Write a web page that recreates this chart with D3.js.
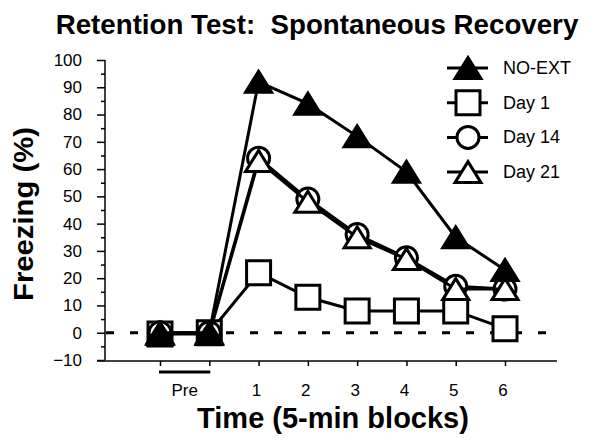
<!DOCTYPE html>
<html><head><meta charset="utf-8">
<script src="https://cdn.jsdelivr.net/npm/d3@7"></script>
<style>body{margin:0;background:#fff}svg{display:block;font-family:"Liberation Sans",Arial,Helvetica,sans-serif}</style>
</head><body><svg id="c" width="616" height="448"></svg>
<script>
const categories = ["Pre1", "Pre2", "1", "2", "3", "4", "5", "6"];
const tickLabels = ["1", "2", "3", "4", "5", "6"];
const seriesNames = ["Day 1", "Day 14", "Day 21", "NO-EXT"];
const day1 = [-0.5, 0, 22, 13, 8, 8, 8, 1.5];
const day14 = [0, 0, 64, 49, 36, 27.5, 17, 16];
const day21 = [-0.5, -0.5, 63, 48, 35, 27, 16, 16];
const noExt = [0, 0, 92, 84, 72, 59, 35, 23];
const yTicks = d3.range(-10, 101, 10);
const yMinor = d3.range(-5, 100, 10);

const svg = d3.select("#c");
const x = d3.scaleLinear().domain([0, 7]).range([160, 505]);
const y = d3.scaleLinear().domain([-10, 100]).range([360, 60]);

// title
svg.append("text").attr("x", 317).attr("y", 34).attr("text-anchor", "middle")
  .attr("font-size", 27.7).attr("font-weight", "bold")
  .style("white-space", "pre").text("Retention Test:  Spontaneous Recovery");

// y axis
const yAxis = d3.axisLeft(y).tickValues(yTicks).tickSize(8).tickPadding(15).tickFormat(d3.format("d"));
const gy = svg.append("g").attr("transform", "translate(105,0)").call(yAxis);
gy.select(".domain").attr("stroke-width", 1.5).attr("d", `M0,${y(100)}V${y(-10)}`);
gy.selectAll(".tick line").attr("stroke-width", 1.5);
gy.selectAll(".tick text").attr("font-size", 17).attr("font-family", "Liberation Sans, Arial, sans-serif").attr("fill", "#000");
const gym = svg.append("g").attr("transform", "translate(105,0)").call(d3.axisLeft(y).tickValues(yMinor).tickSize(4).tickFormat(""));
gym.select(".domain").remove();
gym.selectAll(".tick line").attr("stroke-width", 1.5);

// x axis
const xAxis = d3.axisBottom(x).tickValues(d3.range(0, 8)).tickSize(5).tickFormat("");
const gx = svg.append("g").attr("transform", "translate(0,361)").call(xAxis);
gx.select(".domain").attr("stroke-width", 1.5).attr("d", "M97,0H557");
gx.selectAll(".tick line").attr("stroke-width", 1.5);
svg.append("g").selectAll("text").data(tickLabels).join("text")
  .attr("x", (d, i) => x(i + 2) - 2).attr("y", 396).attr("text-anchor", "middle")
  .attr("font-size", 17).text(d => d);
svg.append("text").attr("x", (x(0) + x(1)) / 2).attr("y", 396).attr("text-anchor", "middle")
  .attr("font-size", 17).text("Pre");
svg.append("line").attr("x1", x(0) - 1).attr("x2", x(1) + 1).attr("y1", 372).attr("y2", 372)
  .attr("stroke", "#000").attr("stroke-width", 3);

// axis titles
svg.append("text").attr("x", 333).attr("y", 428).attr("text-anchor", "middle")
  .attr("font-size", 29).attr("font-weight", "bold").text("Time (5-min blocks)");
svg.append("text").attr("transform", "translate(33,214) rotate(-90)").attr("text-anchor", "middle")
  .attr("font-size", 27).attr("font-weight", "bold")
  .attr("textLength", 174).attr("lengthAdjust", "spacingAndGlyphs").text("Freezing (%)");

// zero dashed line
svg.append("line").attr("x1", 106).attr("x2", 552).attr("y1", y(0)).attr("y2", y(0))
  .attr("stroke", "#000").attr("stroke-width", 3).attr("stroke-dasharray", "8,16");

// markers
function tri(w, h) { return `M0,${-h/2}L${w/2},${h/2}L${-w/2},${h/2}Z`; }
const shapes = {
  "Day 1": {d: "M-12,-12H12V12H-12Z", fill: "#fff"},
  "Day 14": {d: "M11,0A11,11 0 1,1 -11,0A11,11 0 1,1 11,0Z", fill: "#fff"},
  "Day 21": {d: tri(26, 21), fill: "#fff"},
  "NO-EXT": {d: tri(26, 21), fill: "#000"}
};
const data = {"Day 1": day1, "Day 14": day14, "Day 21": day21, "NO-EXT": noExt};
const line = d3.line().x((d, i) => x(i)).y(d => y(d));
seriesNames.forEach(name => {
  const vals = data[name];
  const g = svg.append("g");
  g.append("path").attr("d", line(vals)).attr("fill", "none").attr("stroke", "#000").attr("stroke-width", 3);
  g.selectAll("path.m").data(vals).join("path").attr("class", "m")
    .attr("transform", (d, i) => `translate(${x(i)},${y(d)})`)
    .attr("d", shapes[name].d).attr("fill", shapes[name].fill)
    .attr("stroke", "#000").attr("stroke-width", 3).attr("stroke-linejoin", "miter");
});

// legend
const legendOrder = ["NO-EXT", "Day 1", "Day 14", "Day 21"];
const lg = svg.append("g");
legendOrder.forEach((name, i) => {
  const cy = 68 + i * 34.7;
  lg.append("line").attr("x1", 447).attr("x2", 488).attr("y1", cy).attr("y2", cy)
    .attr("stroke", "#000").attr("stroke-width", 3);
  lg.append("path").attr("transform", `translate(468,${cy})`).attr("d", shapes[name].d)
    .attr("fill", shapes[name].fill).attr("stroke", "#000").attr("stroke-width", 3);
  lg.append("text").attr("x", 503).attr("y", cy + 6).attr("font-size", 18).text(name);
});
</script></body></html>
